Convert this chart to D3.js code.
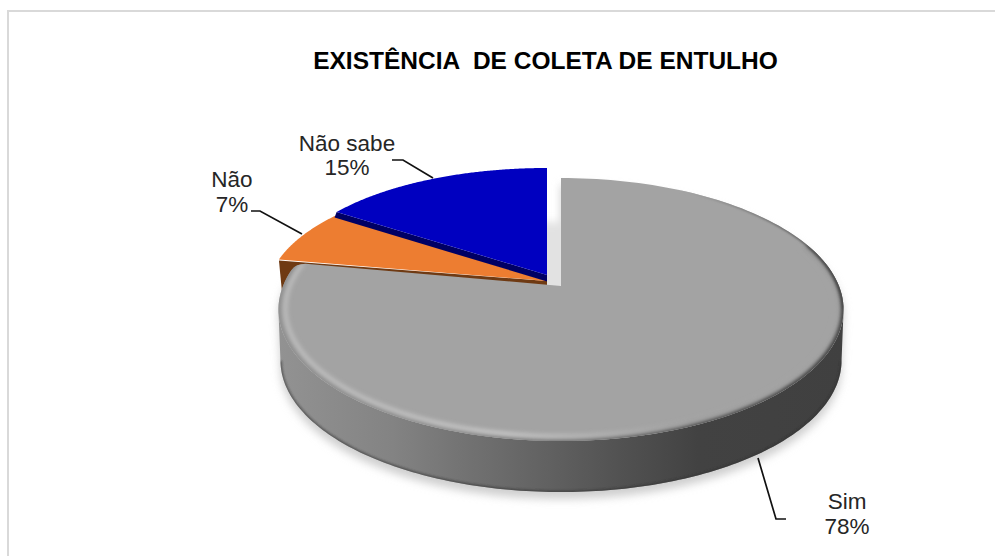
<!DOCTYPE html>
<html lang="pt">
<head>
<meta charset="utf-8">
<title>Existência de coleta de entulho</title>
<script src="https://cdn.jsdelivr.net/npm/d3@7"></script>
<style>
  html, body { margin: 0; background: #fff; }
  svg { display: block; }
  text { font-family: "Liberation Sans", Arial, sans-serif; }
</style>
</head>
<body>
<svg id="chart" width="995" height="556"></svg>
<script>
// Survey answers, in drawing order clockwise from twelve o'clock
const categories = ["Sim", "Não", "Não sabe"];
const shares = [78, 7, 15];
const chartTitle = "EXISTÊNCIA  DE COLETA DE ENTULHO";

const svg = d3.select("#chart");
const defs = svg.append("defs");

// Perspective projection of a unit disc lying on a tilted plane
const project = (cx, cy, B, A, k) => (theta, r = 1) => {
  const u = Math.sin(theta) * r, v = Math.cos(theta) * r, w = 1 + k * v;
  return [cx + B * u / w, cy - A * v / w];
};
const grayDisc = project(561, 286, 278, 127.3, 0.179);
const orangeDisc = project(547, 281, 278, 117, 0.1);
const blueDisc = project(547, 275, 260, 107, 0);

const depth = 51;
const arcSamples = (a0, a1, n = 160) => d3.range(n + 1).map(i => a0 + (a1 - a0) * i / n);
const line = d3.line();
const wedge = (disc, d) => {
  const pts = arcSamples(d.startAngle, d.endAngle).map(t => disc(t));
  return line([disc(0, 0), ...pts]) + "Z";
};
// Same wedge with the outer trailing corner rounded off
const roundedWedge = (disc, d) => {
  const cut = 3.5 * Math.PI / 180;
  const pts = arcSamples(d.startAngle, d.endAngle - cut).map(t => disc(t));
  const corner = disc(d.endAngle), back = disc(d.endAngle, 0.955);
  return line([disc(0, 0), ...pts]) + `Q${corner[0]},${corner[1]} ${back[0]},${back[1]}Z`;
};

const slices = d3.pie().sort(null).value(d => d)(shares);
const [sim, nao, naoSabe] = slices;

// Blur filters
const blur = (id, s) => defs.append("filter")
  .attr("id", id).attr("x", "-20%").attr("y", "-20%").attr("width", "140%").attr("height", "140%")
  .append("feGaussianBlur").attr("stdDeviation", s);
blur("soft1", 1.2);
blur("soft2", 2.2);
blur("soft4", 4);

const hGradient = (id, stops) => {
  const g = defs.append("linearGradient").attr("id", id)
    .attr("gradientUnits", "userSpaceOnUse")
    .attr("x1", 280).attr("x2", 845).attr("y1", 0).attr("y2", 0);
  stops.forEach(([o, c]) => g.append("stop").attr("offset", o).attr("stop-color", c));
};
hGradient("wallFill", [[0, "#929292"], [0.2, "#838383"], [0.33, "#727272"], [0.45, "#646464"],
                       [0.6, "#525252"], [0.74, "#424242"], [1, "#404040"]]);
hGradient("rimLight", [[0, "#bebebe"], [0.2, "#c4c4c4"], [0.4, "#cdcdcd"], [0.6, "#b4b4b4"], [0.72, "#a6a6a6"], [1, "#a3a3a3"]]);
hGradient("rimDark", [[0, "#8e8e8e"], [0.3, "#8a8a8a"], [0.55, "#6a6a6a"], [0.75, "#484848"], [1, "#3c3c3c"]]);
hGradient("rimEdge", [[0, "#a3a3a3"], [0.72, "#a3a3a3"], [0.88, "#6a6a6a"], [1, "#484848"]]);

// Side wall outline of the gray slice: front arc of the top face joined to the lower rim
const frontLeft = (100.5 + 159) * Math.PI / 180;
const frontRight = 100.5 * Math.PI / 180;
const frontArc = arcSamples(frontRight, frontLeft);
const wallDisc = project(561, 286 + depth, 276, 127.3, 0.179);
const wallPath = line([
  ...frontArc.map(t => grayDisc(t)),
  ...frontArc.slice().reverse().map(t => wallDisc(t))
]) + "Z";

// Soft drop shadow under the whole disc
const shadow = svg.append("g").attr("filter", "url(#soft4)").attr("fill", "#cfcfcf")
  .attr("transform", "translate(0,7)");
shadow.append("path").attr("d", wallPath);
shadow.append("path").attr("d", wedge(grayDisc, sim));

// Shade cast into the gap between the blue and gray slices
defs.append("clipPath").attr("id", "gapClip").append("rect")
  .attr("x", 530).attr("y", 190).attr("width", 40).attr("height", 96.5);
svg.append("g").attr("clip-path", "url(#gapClip)")
  .append("rect").attr("x", 535).attr("y", 222).attr("width", 40).attr("height", 90)
  .attr("fill", "#e2e2e2").attr("filter", "url(#soft4)");

// Orange slice: cut faces first, then the top
const oa = orangeDisc(0, 0), ot = orangeDisc(nao.startAngle), oc = orangeDisc(nao.endAngle);
svg.append("path")
  .attr("d", line([[ot[0], ot[1] + 1], [ot[0] + 3, ot[1] + 32], [ot[0] + 30, ot[1] + 32], [oa[0], oa[1] + 7], oa]) + "Z")
  .attr("fill", "#6f3a13");
svg.append("path").attr("d", wedge(orangeDisc, nao)).attr("fill", "#ed7d31");

// Blue slice with its dark cut face
const ba = blueDisc(0, 0), bc = blueDisc(naoSabe.startAngle);
svg.append("path")
  .attr("d", line([bc, ba, [ba[0], oa[1] + 0.5], [oc[0], oc[1] + 1.5]]) + "Z")
  .attr("fill", "#000064");
svg.append("path").attr("d", wedge(blueDisc, naoSabe)).attr("fill", "#0000c0");

// Gray slice: side wall, top face and bevelled rim
defs.append("clipPath").attr("id", "wallClip").append("path").attr("d", wallPath);
svg.append("path").attr("d", wallPath).attr("fill", "url(#wallFill)");
svg.append("g").attr("clip-path", "url(#wallClip)")
  .append("path")
  .attr("d", line(frontArc.map(t => wallDisc(t))))
  .attr("fill", "none").attr("stroke", "#303030").attr("stroke-opacity", 0.6)
  .attr("stroke-width", 3).attr("filter", "url(#soft1)");

const facePath = roundedWedge(grayDisc, sim);
svg.append("path").attr("d", facePath).attr("fill", "#a3a3a3");
defs.append("clipPath").attr("id", "faceClip").append("path").attr("d", facePath);
const rim = svg.append("g").attr("clip-path", "url(#faceClip)");
const rimArc = arcSamples(70 * Math.PI / 180, sim.endAngle);
rim.append("path")
  .attr("d", line(rimArc.map(t => grayDisc(t))))
  .attr("fill", "none").attr("stroke", "url(#rimDark)").attr("stroke-width", 6)
  .attr("filter", "url(#soft2)");
rim.append("path")
  .attr("d", line(rimArc.map(t => grayDisc(t, 0.976))))
  .attr("fill", "none").attr("stroke", "url(#rimLight)").attr("stroke-width", 4)
  .attr("filter", "url(#soft2)");
rim.append("path")
  .attr("d", line(arcSamples(30 * Math.PI / 180, 100 * Math.PI / 180).map(t => grayDisc(t))))
  .attr("fill", "none").attr("stroke", "url(#rimEdge)").attr("stroke-width", 2.5)
  .attr("filter", "url(#soft1)");

// Panel border: left and top edges only
svg.append("path").attr("d", "M8,556V11H995")
  .attr("fill", "none").attr("stroke", "#d9d9d9").attr("stroke-width", 2);

// Title
svg.append("text").attr("x", 545.5).attr("y", 69)
  .attr("text-anchor", "middle").attr("font-size", 24.5).attr("font-weight", 700)
  .attr("fill", "#000").style("white-space", "pre").text(chartTitle);

// Data labels and their leader lines
const labelSpots = [
  { x: 847, y0: 509, y1: 534, leader: [[758, 458], [776, 519], [786, 519]] },
  { x: 232, y0: 187, y1: 212, leader: [[251, 211], [260, 211], [302, 234]] },
  { x: 347, y0: 151, y1: 175, leader: [[392, 160], [403, 160], [433, 178]] }
];
labelSpots.forEach((s, i) => {
  svg.append("path").attr("d", line(s.leader)).attr("fill", "none")
    .attr("stroke", "#111").attr("stroke-width", 1.7);
  const t = svg.append("text").attr("text-anchor", "middle").attr("font-size", 22.5).attr("fill", "#262626");
  t.append("tspan").attr("x", s.x).attr("y", s.y0).text(categories[i]);
  t.append("tspan").attr("x", s.x).attr("y", s.y1).text(shares[i] + "%");
});
</script>
</body>
</html>
